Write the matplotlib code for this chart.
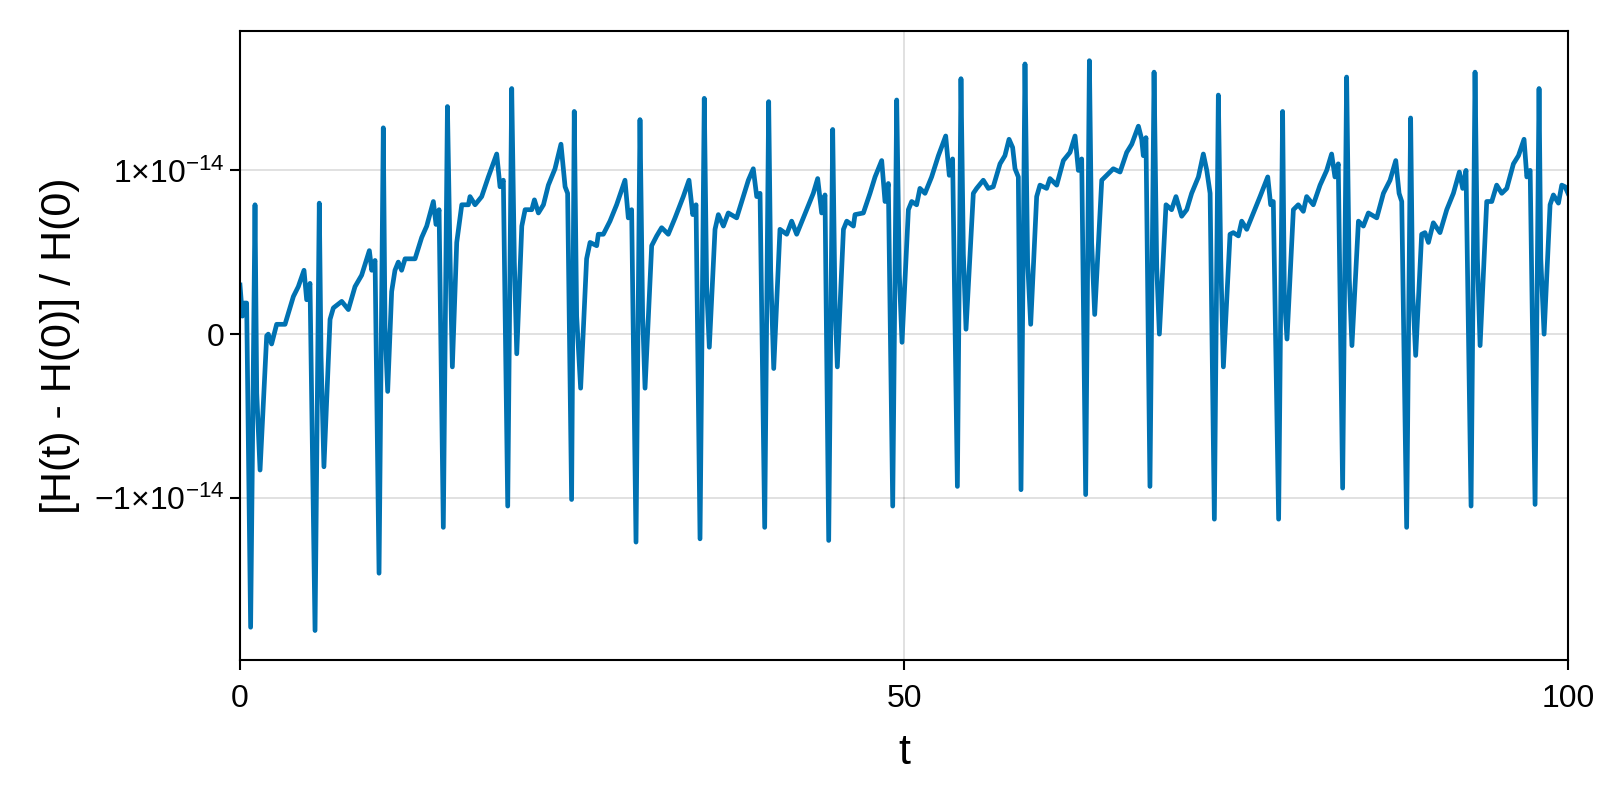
import numpy as np
import matplotlib
matplotlib.use('Agg')
import matplotlib.pyplot as plt

plt.rcParams['font.family'] = ['Liberation Sans', 'DejaVu Sans']
plt.rcParams['mathtext.fontset'] = 'custom'
plt.rcParams['mathtext.rm'] = 'Liberation Sans'
plt.rcParams['mathtext.it'] = 'Liberation Sans:italic'
plt.rcParams['mathtext.bf'] = 'Liberation Sans:bold'

# time and relative energy error (in units of 1e-14)
t = [0.0, 0.18, 0.33, 0.5, 0.80, 1.13, 1.26, 1.51, 2.01, 2.13, 2.38, 2.76, 3.39, 4.02, 4.39, 4.82, 5.02, 5.27,
     5.65, 5.97, 6.10, 6.32, 6.78, 7.03, 7.66, 8.16, 8.66, 9.16, 9.74, 9.92, 10.17,
     10.47, 10.79, 10.92, 11.12, 11.42, 11.67, 11.92, 12.17, 12.43, 13.18, 13.68, 14.06, 14.56, 14.76, 14.99,
     15.31, 15.62, 15.82, 15.99, 16.32, 16.70, 17.20, 17.32, 17.70, 18.20, 18.70, 19.33, 19.58, 19.83,
     20.16, 20.46, 20.66, 20.84, 21.22, 21.47, 21.97, 22.17, 22.47, 22.85, 23.22, 23.72, 24.17, 24.48, 24.67,
     24.97, 25.17, 25.35, 25.65, 26.1, 26.36, 26.86, 26.98, 27.36, 27.86, 28.36, 28.99, 29.24, 29.49,
     29.82, 30.12, 30.32, 30.50, 31.0, 31.38, 31.75, 32.25, 32.76, 33.38, 33.81, 34.09, 34.34,
     34.64, 34.96, 35.14, 35.34, 35.77, 36.02, 36.40, 36.77, 37.40, 37.90, 38.28, 38.65, 38.91, 39.16,
     39.51, 39.81, 39.96, 40.19, 40.66, 41.17, 41.54, 41.92, 42.67, 43.17, 43.50, 43.80, 44.05,
     44.33, 44.63, 44.81, 44.98, 45.44, 45.69, 46.19, 46.31, 46.94, 47.44, 47.82, 48.32, 48.57, 48.82,
     49.15, 49.45, 49.65, 49.85, 50.33, 50.58, 50.95, 51.20, 51.58, 52.08, 52.59, 53.14, 53.41, 53.66,
     54.02, 54.29, 54.47, 54.67, 55.22, 55.47, 55.97, 56.35, 56.72, 57.23, 57.60, 57.91, 58.18, 58.36, 58.61,
     58.81, 59.11, 59.31, 59.54, 59.99, 60.24, 60.74, 60.99, 61.50, 62.0, 62.50, 62.88, 63.13, 63.38,
     63.68, 63.96, 64.13, 64.36, 64.89, 65.26, 65.76, 66.27, 66.77, 67.15, 67.65, 67.90, 68.02, 68.22,
     68.52, 68.83, 69.03, 69.23, 69.73, 70.15, 70.48, 70.91, 71.29, 71.66, 72.17, 72.54, 72.80, 73.05,
     73.37, 73.67, 73.85, 74.05, 74.55, 74.80, 75.18, 75.43, 75.81, 76.31, 76.81, 77.39, 77.61, 77.81,
     78.21, 78.51, 78.64, 78.84, 79.32, 79.69, 80.07, 80.32, 80.82, 81.33, 81.83, 82.20, 82.45, 82.70,
     83.03, 83.33, 83.53, 83.73, 84.22, 84.59, 84.97, 85.60, 86.10, 86.60, 87.03, 87.28, 87.48,
     87.85, 88.15, 88.30, 88.53, 88.98, 89.23, 89.49, 89.86, 90.36, 90.87, 91.37, 91.82, 92.07, 92.32,
     92.70, 93.00, 93.18, 93.38, 93.88, 94.26, 94.63, 95.01, 95.39, 95.89, 96.27, 96.69, 96.90, 97.15,
     97.52, 97.82, 97.95, 98.20, 98.65, 98.90, 99.28, 99.53, 99.78, 100.0]
dH = [0.30, 0.11, 0.19, 0.19, -1.79, 0.79, -0.36, -0.83, -0.01, 0.0, -0.06, 0.06, 0.06, 0.23, 0.29, 0.39, 0.21, 0.31,
      -1.81, 0.80, -0.13, -0.81, 0.09, 0.16, 0.20, 0.15, 0.29, 0.36, 0.51, 0.39, 0.45,
      -1.46, 1.26, 0.04, -0.35, 0.26, 0.39, 0.44, 0.39, 0.46, 0.46, 0.59, 0.66, 0.81, 0.67, 0.76,
      -1.18, 1.39, 0.46, -0.20, 0.56, 0.79, 0.79, 0.84, 0.79, 0.84, 0.96, 1.10, 0.90, 0.94,
      -1.05, 1.50, 0.44, -0.12, 0.66, 0.76, 0.76, 0.82, 0.74, 0.79, 0.91, 1.01, 1.16, 0.90, 0.86,
      -1.01, 1.36, 0.11, -0.33, 0.46, 0.56, 0.54, 0.61, 0.61, 0.69, 0.79, 0.94, 0.71, 0.76,
      -1.27, 1.31, 0.11, -0.33, 0.54, 0.60, 0.65, 0.61, 0.71, 0.84, 0.94, 0.73, 0.79,
      -1.25, 1.44, 0.29, -0.08, 0.64, 0.73, 0.66, 0.74, 0.71, 0.84, 0.94, 1.01, 0.84, 0.86,
      -1.18, 1.42, 0.39, -0.21, 0.64, 0.61, 0.69, 0.61, 0.76, 0.86, 0.95, 0.74, 0.85,
      -1.26, 1.25, 0.16, -0.20, 0.64, 0.69, 0.66, 0.73, 0.74, 0.86, 0.96, 1.06, 0.81, 0.92,
      -1.05, 1.43, 0.36, -0.05, 0.76, 0.81, 0.79, 0.89, 0.86, 0.96, 1.09, 1.21, 0.97, 1.07,
      -0.93, 1.56, 0.49, 0.03, 0.86, 0.89, 0.94, 0.89, 0.90, 1.04, 1.09, 1.19, 1.14, 1.01, 0.96,
      -0.95, 1.65, 0.44, 0.06, 0.84, 0.91, 0.89, 0.95, 0.91, 1.06, 1.11, 1.21, 1.00, 1.07,
      -0.98, 1.67, 0.56, 0.12, 0.94, 0.97, 1.01, 0.99, 1.11, 1.16, 1.27, 1.19, 1.09, 1.20,
      -0.93, 1.60, 0.41, 0.0, 0.79, 0.76, 0.84, 0.72, 0.76, 0.86, 0.96, 1.10, 1.00, 0.86,
      -1.13, 1.46, 0.46, -0.20, 0.61, 0.62, 0.60, 0.69, 0.64, 0.74, 0.84, 0.96, 0.79, 0.81,
      -1.13, 1.36, 0.24, -0.03, 0.76, 0.79, 0.75, 0.84, 0.79, 0.91, 1.00, 1.10, 0.96, 1.04,
      -0.94, 1.57, 0.34, -0.07, 0.69, 0.66, 0.74, 0.71, 0.86, 0.94, 1.06, 0.86, 0.81,
      -1.18, 1.32, 0.26, -0.13, 0.61, 0.62, 0.56, 0.68, 0.62, 0.76, 0.86, 0.99, 0.89, 1.00,
      -1.05, 1.60, 0.46, -0.07, 0.81, 0.81, 0.91, 0.86, 0.89, 1.04, 1.09, 1.19, 0.96, 1.00,
      -1.04, 1.50, 0.46, 0.0, 0.79, 0.85, 0.80, 0.91, 0.90, 0.86]

x_ticks = [0, 50, 100]
y_ticks = [-1e-14, 0, 1e-14]
y_labels = [r'$-1{\times}10^{-14}$', '0', r'$1{\times}10^{-14}$']

t = np.array(t)
dH = np.array(dH) * 1e-14

fig = plt.figure(figsize=(16, 8), dpi=100)
ax = fig.add_axes([0.15, 0.175, 0.83, 0.786])

ax.plot(t, dH, color='#0072B2', linewidth=3.4, solid_joinstyle='round')

ax.set_xlim(0, 100)
ax.set_ylim(-1.99e-14, 1.85e-14)
ax.set_xticks(x_ticks)
ax.set_xticklabels([str(v) for v in x_ticks])
ax.set_yticks(y_ticks)
ax.set_yticklabels(y_labels)

ax.grid(True, color='black', alpha=0.12, linewidth=1.4)
ax.set_axisbelow(True)
for s in ax.spines.values():
    s.set_linewidth(1.5)
ax.tick_params(direction='out', length=7, width=1.5, labelsize=23, pad=4)
ax.tick_params(axis='x', pad=10)

ax.set_xlabel('t', fontsize=31, labelpad=14)
ax.set_ylabel('[H(t) - H(0)] / H(0)', fontsize=31, labelpad=10)

fig.savefig('out.png', dpi=100)
